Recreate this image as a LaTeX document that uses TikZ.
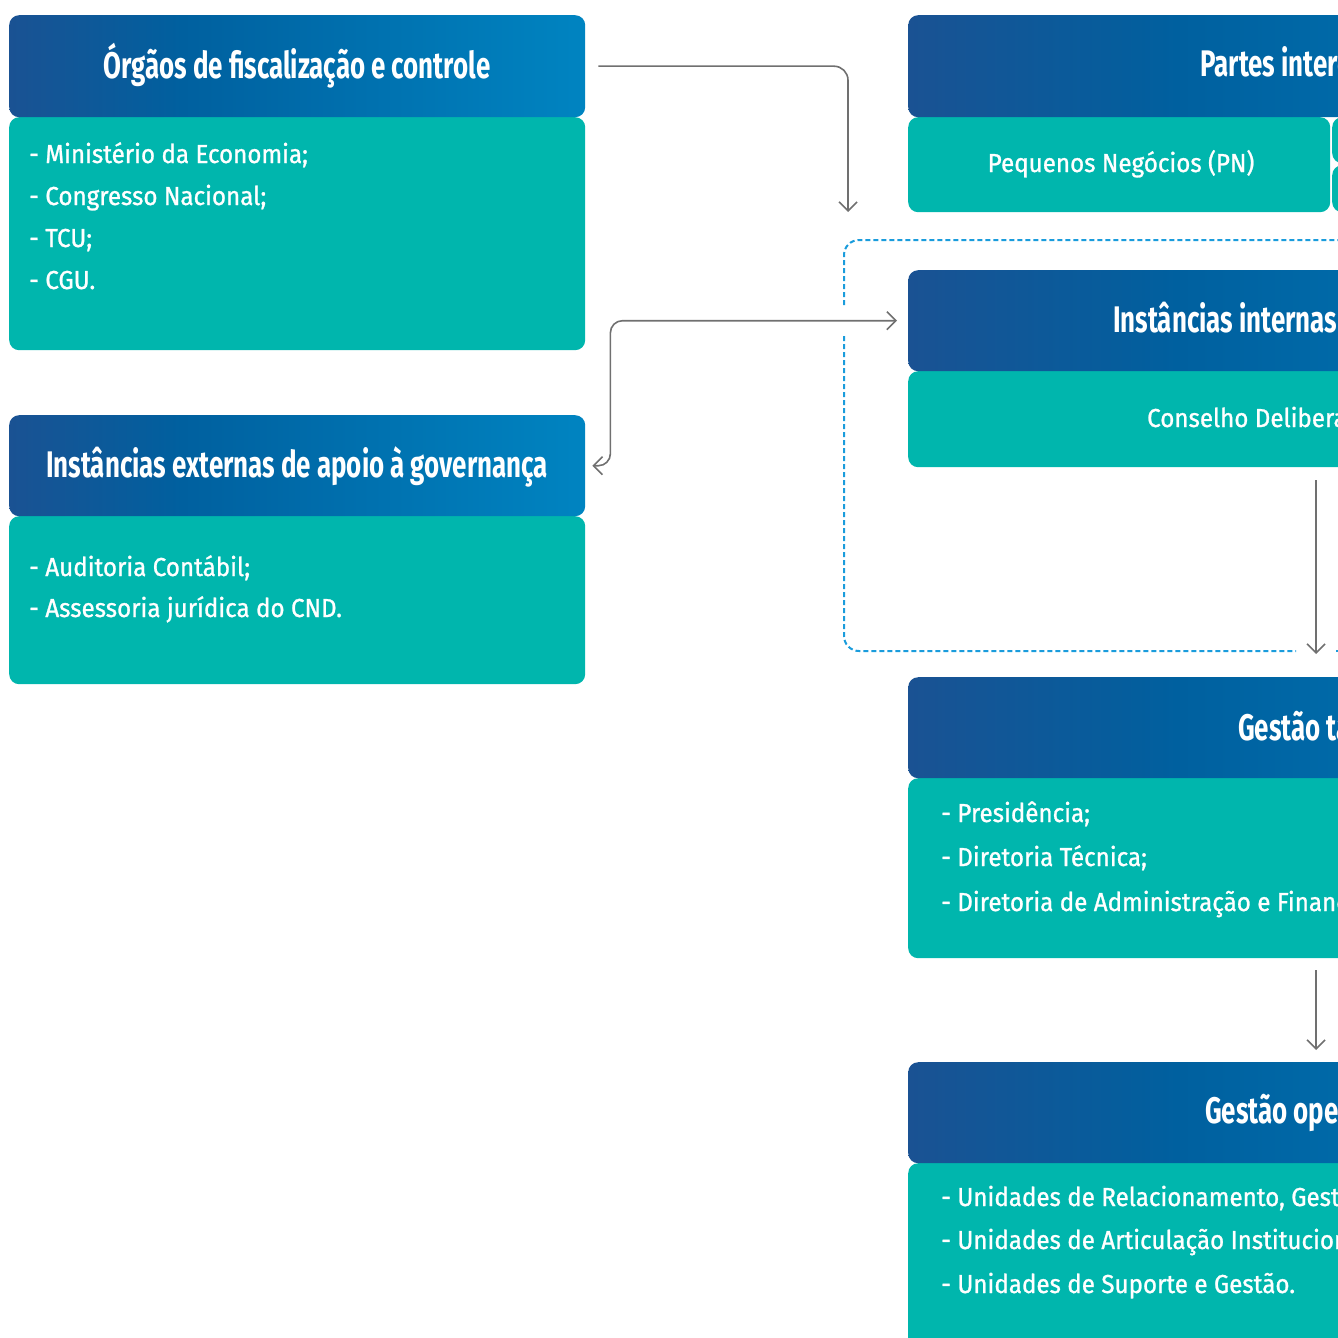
\documentclass[tikz,border=0pt]{standalone}
\usepackage{fontspec}
\setmainfont{Fira Sans}
\newfontfamily\ttlfont[FakeStretch=0.70]{Fira Sans}
\newfontfamily\txtfont[FakeStretch=0.93,FakeBold=1.0]{Fira Sans}
\usetikzlibrary{arrows.meta}
\definecolor{hA}{HTML}{1A5293}
\definecolor{hB}{HTML}{00609F}
\definecolor{hC}{HTML}{0084C1}
\definecolor{tealbox}{HTML}{00B6AD}
\definecolor{arrowgray}{HTML}{707070}
\definecolor{frameblue}{HTML}{1A9CDC}
\pgfdeclarehorizontalshading{hdrshade}{100bp}{color(0bp)=(hA); color(25bp)=(hA); color(40bp)=(hB); color(75bp)=(hC); color(100bp)=(hC)}
\tikzset{
  hdr/.style={shading=hdrshade, draw=none, rounded corners=10pt, inner sep=0pt, anchor=north west},
  bodyb/.style={fill=tealbox, draw=none, rounded corners=10pt, inner sep=0pt, anchor=north west},
  ttl/.style={font=\ttlfont\bfseries\fontsize{37}{40}\selectfont, text=white, inner sep=0pt},
  txt/.style={font=\txtfont\fontsize{26}{30}\selectfont, text=white, inner sep=0pt},
  conn/.style={draw=arrowgray, line width=1.6pt, -{Straight Barb[length=9pt,width=18pt]}},
  frame/.style={draw=frameblue, line width=2pt, dash pattern=on 5pt off 3pt}
}
\begin{document}
\begin{tikzpicture}[x=1pt,y=-1pt]
\useasboundingbox (0,0) rectangle (1338,1338);
\clip (0,0) rectangle (1338,1338);

% left box 1
\node[bodyb, minimum width=576pt, minimum height=233pt] (b1) at (9,117) {};
\node[hdr, minimum width=576pt, minimum height=102pt] (h1) at (9,15) {};
\node[ttl, anchor=base] (t1) at (297,78) {Órgãos de fiscalização e controle};
\node[txt, anchor=base west] (l1a) at (29,163) {- Ministério da Economia;};
\node[txt, anchor=base west] (l1b) at (29,205) {- Congresso Nacional;};
\node[txt, anchor=base west] (l1c) at (29,247) {- TCU;};
\node[txt, anchor=base west] (l1d) at (29,289) {- CGU.};

% left box 2
\node[bodyb, minimum width=576pt, minimum height=168pt] (b2) at (9,516) {};
\node[hdr, minimum width=576pt, minimum height=101pt] (h2) at (9,415) {};
\node[ttl, anchor=base] (t2) at (297,477) {Instâncias externas de apoio à governança};
\node[txt, anchor=base west] (l2a) at (29,576) {- Auditoria Contábil;};
\node[txt, anchor=base west] (l2b) at (29,617) {- Assessoria jurídica do CND.};

% right: partes interessadas
\node[bodyb, minimum width=422pt, minimum height=95pt] (b3) at (908,117) {};
\node[bodyb, minimum width=100pt, minimum height=46pt] (p2a) at (1332,117) {};
\node[bodyb, minimum width=100pt, minimum height=47pt] (p2b) at (1332,165) {};
\node[hdr, minimum width=900pt, minimum height=102pt] (h3) at (908,15) {};
\node[ttl, anchor=base west] (t3) at (1200,77) {Partes interessadas};
\node[txt, anchor=base] (l3) at (1121,172) {Pequenos Negócios (PN)};

% right: instancias internas
\node[bodyb, minimum width=900pt, minimum height=96pt] (b4) at (908,371) {};
\node[hdr, minimum width=900pt, minimum height=101pt] (h4) at (908,270) {};
\node[ttl, anchor=base west] (t4) at (1113,332) {Instâncias internas de governança};
\node[txt, anchor=base west] (l4) at (1147,427) {Conselho Deliberativo};

% right: gestao tatica
\node[bodyb, minimum width=900pt, minimum height=180pt] (b5) at (908,778) {};
\node[hdr, minimum width=900pt, minimum height=101pt] (h5) at (908,677) {};
\node[ttl, anchor=base west] (t5) at (1238,740) {Gestão tática};
\node[txt, anchor=base west] (l5a) at (941,822) {- Presidência;};
\node[txt, anchor=base west] (l5b) at (941,866) {- Diretoria Técnica;};
\node[txt, anchor=base west] (l5c) at (941,911) {- Diretoria de Administração e Finanças};

% right: gestao operacional
\node[bodyb, minimum width=900pt, minimum height=200pt] (b6) at (908,1163) {};
\node[hdr, minimum width=900pt, minimum height=101pt] (h6) at (908,1062) {};
\node[ttl, anchor=base west] (t6) at (1205,1123) {Gestão operacional};
\node[txt, anchor=base west] (l6a) at (941,1206) {- Unidades de Relacionamento, Gestão};
\node[txt, anchor=base west] (l6b) at (941,1249) {- Unidades de Articulação Institucional};
\node[txt, anchor=base west] (l6c) at (941,1293) {- Unidades de Suporte e Gestão.};

% dashed frame
\draw[frame, rounded corners=15pt] (844,305) -- (844,240) -- (1400,240);
\draw[frame, rounded corners=15pt] (844,336) -- (844,651) -- (1296,651);
\draw[frame] (1336,651) -- (1400,651);

% connectors
\coordinate (a1end) at (848,212);
\draw[conn, rounded corners=14pt] ([xshift=13pt]h1.east) -| (a1end);
\draw[conn, {Straight Barb[length=9pt,width=18pt]}-{Straight Barb[length=9pt,width=18pt]}, rounded corners=12pt]
  ([xshift=7pt]h2.east) -- ++(18,0) |- ([xshift=-11pt]h4.west);
\draw[conn] ([xshift=408pt,yshift=-13pt]b4.south west) -- ([xshift=408pt,yshift=23pt]h5.north west);
\draw[conn] ([xshift=408pt,yshift=-12pt]b5.south west) -- ([xshift=408pt,yshift=12pt]h6.north west);
\end{tikzpicture}
\end{document}
